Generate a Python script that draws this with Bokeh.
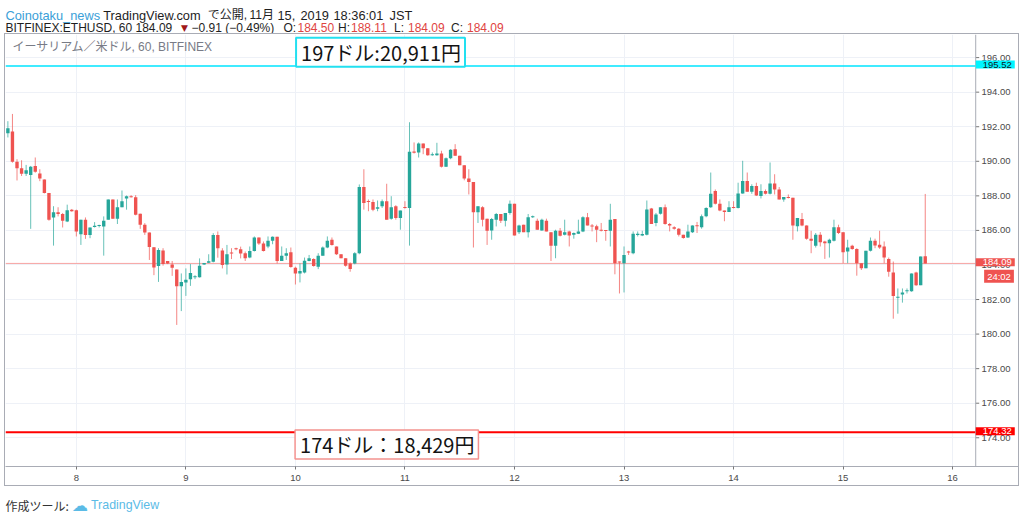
import numpy as np
import pandas as pd
from bokeh.plotting import figure
from bokeh.models import (Range1d, FixedTicker, PrintfTickFormatter, Label, Span,
                          ColumnDataSource, BoxAnnotation)
from bokeh.layouts import column
from bokeh.embed import file_html
from bokeh.resources import INLINE

# ---------------- data (hourly ETH/USD candles, Bitfinex, JST) ----------------
first_candle = "2019-11-07 09:00"
open_ = [191.62, 191.73, 189.98, 189.59, 189.28, 189.20, 189.73, 189.30, 188.95, 188.17,
         186.75, 187.05, 186.95, 186.52, 187.20, 187.16, 185.78, 186.62, 185.74, 186.19,
         186.27, 186.23, 186.62, 187.79, 186.68, 187.34, 187.84, 187.98, 187.92, 186.97,
         186.33, 185.88, 185.03, 183.94, 184.83, 184.23, 184.03, 183.74, 182.77, 182.98,
         183.18, 183.29, 183.29, 184.03, 184.13, 184.19, 185.74, 184.83, 184.03, 184.71,
         184.97, 184.91, 184.68, 184.43, 184.81, 185.59, 185.24, 185.07, 185.40, 185.63,
         184.23, 184.54, 184.74, 183.84, 183.51, 183.57, 184.23, 184.35, 183.90, 184.54,
         185.01, 185.46, 185.07, 184.62, 184.39, 184.09, 184.09, 184.68, 188.51, 187.69,
         187.65, 187.26, 187.40, 187.69, 186.68, 187.40, 186.72, 187.36, 187.30, 190.55,
         190.51, 191.03, 190.76, 190.35, 190.35, 190.45, 189.69, 190.18, 190.70, 190.32,
         189.77, 189.01, 188.80, 187.05, 187.34, 186.68, 186.00, 186.62, 186.95, 186.56,
         187.01, 187.54, 185.90, 186.33, 185.90, 186.76, 186.56, 186.00, 186.56, 185.90,
         185.11, 185.98, 185.75, 185.94, 185.75, 185.81, 185.94, 186.76, 186.29, 186.24,
         186.04, 186.02, 185.98, 186.66, 184.20, 184.10, 184.78, 184.68, 185.75, 185.71,
         185.75, 187.27, 186.43, 186.96, 187.34, 186.37, 186.18, 186.10, 185.75, 185.59,
         185.90, 186.29, 186.18, 186.82, 187.34, 188.28, 187.54, 187.15, 187.07, 187.34,
         187.30, 188.14, 188.86, 188.24, 188.57, 187.99, 188.28, 188.12, 188.72, 188.37,
         187.79, 187.93, 187.89, 186.24, 186.66, 186.29, 185.52, 185.11, 185.75, 185.36,
         185.26, 185.40, 186.18, 185.90, 184.78, 185.11, 184.93, 184.10, 183.81, 184.82,
         185.40, 185.17, 185.07, 184.35, 183.57, 182.11, 182.29, 182.48, 182.48, 183.57,
         182.83, 184.50]
high = [192.32, 192.74, 190.12, 190.06, 189.79, 189.73, 190.22, 189.54, 188.95, 188.17,
        187.40, 187.34, 187.01, 187.49, 187.24, 187.20, 186.62, 186.75, 186.17, 186.48,
        186.33, 186.81, 187.79, 187.79, 187.79, 188.31, 188.02, 188.04, 188.04, 186.97,
        186.42, 185.88, 185.03, 184.97, 184.97, 184.23, 184.23, 183.74, 183.51, 183.80,
        184.05, 183.41, 184.38, 184.11, 184.62, 185.84, 185.94, 184.97, 185.16, 184.97,
        185.00, 185.06, 184.78, 185.07, 185.65, 185.59, 185.36, 185.65, 185.65, 185.63,
        185.07, 184.97, 185.01, 183.90, 184.09, 184.43, 184.58, 184.39, 184.68, 185.07,
        185.65, 185.59, 185.07, 184.62, 184.39, 184.15, 184.74, 188.66, 189.54, 187.79,
        187.79, 187.73, 187.79, 188.70, 187.98, 187.46, 187.15, 187.69, 192.26, 191.09,
        191.09, 191.03, 190.76, 190.51, 191.07, 190.61, 190.22, 190.70, 190.99, 190.32,
        189.77, 189.54, 188.80, 187.40, 187.40, 186.68, 186.72, 187.01, 186.95, 187.01,
        187.73, 187.54, 186.33, 186.33, 186.95, 186.86, 186.68, 186.68, 186.68, 185.90,
        186.04, 186.14, 186.62, 185.98, 185.88, 186.62, 186.82, 187.01, 186.37, 186.33,
        186.43, 186.02, 187.54, 186.66, 184.20, 185.07, 184.82, 185.94, 185.94, 185.98,
        187.73, 187.30, 187.01, 187.34, 187.50, 186.43, 186.24, 186.14, 185.75, 186.33,
        186.29, 186.49, 186.92, 187.34, 189.35, 188.37, 187.79, 187.15, 187.69, 187.69,
        188.76, 190.03, 189.35, 188.67, 188.76, 188.67, 188.37, 189.93, 189.25, 188.51,
        187.93, 188.08, 187.89, 186.72, 187.01, 186.29, 185.98, 185.85, 185.90, 185.40,
        185.52, 186.62, 186.33, 185.90, 185.46, 185.17, 184.97, 184.10, 184.82, 185.59,
        185.52, 185.98, 185.36, 184.43, 184.20, 182.64, 182.64, 182.64, 183.51, 183.61,
        184.49, 188.11]
low = [191.38, 189.92, 188.89, 189.15, 189.15, 186.09, 189.34, 188.85, 188.14, 186.56,
       185.12, 186.81, 186.17, 186.48, 187.08, 185.65, 185.16, 185.51, 185.55, 186.17,
       186.17, 184.54, 186.62, 186.68, 186.37, 187.34, 187.20, 187.90, 186.87, 186.09,
       185.74, 184.29, 183.41, 183.02, 183.96, 184.05, 183.37, 180.53, 181.33, 182.21,
       182.79, 183.18, 183.27, 184.00, 184.11, 184.15, 184.42, 183.80, 183.45, 184.34,
       184.85, 184.38, 184.23, 184.39, 184.78, 185.16, 184.78, 184.97, 185.20, 184.09,
       184.23, 184.29, 183.84, 182.87, 182.99, 183.51, 184.21, 183.90, 183.76, 184.54,
       184.97, 185.12, 184.58, 184.39, 183.90, 183.61, 184.04, 184.62, 187.20, 187.11,
       187.11, 187.11, 187.30, 186.62, 186.62, 186.62, 186.04, 187.26, 185.12, 190.45,
       190.22, 190.41, 190.32, 190.32, 190.32, 189.64, 189.67, 190.12, 190.32, 189.77,
       188.90, 188.08, 185.01, 186.43, 186.23, 185.16, 185.46, 186.23, 186.43, 186.23,
       186.91, 185.71, 185.79, 185.90, 185.59, 186.72, 186.04, 185.98, 185.94, 184.23,
       184.39, 185.65, 185.71, 185.07, 185.52, 185.79, 185.90, 186.29, 185.94, 185.32,
       185.94, 185.40, 185.07, 183.46, 182.35, 182.41, 184.58, 184.62, 185.65, 185.67,
       185.71, 186.37, 186.24, 186.92, 186.33, 185.94, 186.04, 185.65, 185.52, 185.56,
       185.85, 185.85, 186.10, 186.76, 187.30, 187.50, 187.11, 186.53, 187.07, 187.27,
       187.27, 188.12, 188.24, 188.12, 187.99, 187.85, 188.08, 188.08, 188.08, 187.79,
       187.66, 187.85, 185.46, 185.94, 186.24, 185.46, 184.68, 185.01, 185.07, 184.35,
       184.43, 185.36, 185.79, 184.10, 184.10, 184.88, 183.38, 183.71, 183.81, 184.78,
       184.97, 184.93, 184.10, 183.32, 180.89, 181.18, 181.82, 182.35, 182.45, 182.79,
       182.83, 184.09]
close = [191.91, 189.98, 189.59, 189.28, 189.48, 189.69, 189.40, 189.01, 188.17, 186.62,
         187.05, 186.95, 186.56, 187.16, 187.11, 185.94, 186.62, 185.74, 186.17, 186.27,
         186.29, 186.56, 187.79, 186.68, 187.34, 187.69, 187.98, 187.92, 186.91, 186.33,
         185.88, 185.04, 183.86, 184.87, 184.05, 184.09, 183.84, 182.77, 183.02, 183.14,
         183.53, 183.35, 183.96, 184.11, 184.21, 185.74, 184.97, 184.00, 184.62, 184.67,
         184.91, 184.67, 184.39, 184.81, 185.59, 185.24, 184.81, 185.40, 185.63, 184.23,
         184.54, 184.68, 183.88, 183.51, 183.65, 184.25, 184.39, 183.94, 184.54, 185.01,
         185.40, 185.16, 184.62, 184.39, 183.96, 183.76, 184.68, 188.51, 187.59, 187.65,
         187.20, 187.34, 187.69, 186.62, 187.34, 186.72, 187.15, 187.30, 190.55, 190.51,
         191.03, 190.76, 190.35, 190.41, 190.45, 189.69, 190.18, 190.67, 190.32, 189.77,
         189.01, 188.80, 187.05, 187.40, 186.62, 185.98, 186.66, 186.95, 186.56, 187.01,
         187.54, 185.71, 186.29, 185.90, 186.76, 186.82, 186.04, 186.62, 185.94, 185.11,
         185.98, 185.69, 185.90, 185.71, 185.85, 185.94, 186.76, 186.29, 186.22, 186.04,
         185.98, 185.98, 186.62, 184.10, 184.14, 184.58, 184.72, 185.81, 185.79, 185.79,
         187.21, 186.37, 186.92, 187.34, 186.37, 186.29, 186.10, 185.75, 185.56, 185.94,
         186.29, 186.24, 186.82, 187.30, 188.12, 187.54, 187.15, 187.07, 187.34, 187.30,
         188.14, 188.86, 188.24, 188.57, 188.02, 188.28, 188.12, 188.72, 188.37, 187.79,
         187.93, 187.89, 186.29, 186.72, 186.29, 185.52, 185.40, 185.75, 185.32, 185.26,
         185.46, 186.18, 185.85, 184.74, 185.01, 184.93, 184.10, 183.81, 184.82, 185.40,
         185.13, 185.01, 184.43, 183.61, 182.21, 182.15, 182.41, 182.54, 183.51, 182.83,
         184.49, 184.09]

price_ticks = [174, 176, 178, 180, 182, 184, 186, 188, 190, 192, 194, 196]
day_labels = ["8", "9", "10", "11", "12", "13", "14", "15", "16"]
upper_level = 195.52
lower_level = 174.32
upper_note = "197ドル:20,911円"
lower_note = "174ドル：18,429円"
countdown = "24:02"
pane_title = "イーサリアム／米ドル, 60, BITFINEX"
author = "Coinotaku_news"
published = "TradingView.com で公開, 11月 15, 2019 18:36:01 JST"
symbol = "BITFINEX:ETHUSD, 60"
change = "−0.91 (−0.49%)"
footer_text = "作成ツール:"
brand = "TradingView"

# ---------------- layout helpers (page pixels -> data) ----------------
PX_DAY8, PX_PER_H = 75.7, 4.555     # page x of Nov 8 00:00, px per hour
PY_186, PY_PER_USD = 229.0, 17.2    # page y of 186.00, px per dollar
def hx(px): return (px - PX_DAY8) / PX_PER_H
def py(pyy): return 186.0 - (pyy - PY_186) / PY_PER_USD
PANE_L, PANE_R, BOX_R = 5, 973.3, 1018   # candle pane left/right, price-scale right (page px)

ref = pd.Timestamp("2019-11-08 00:00")
times = pd.date_range(first_candle, periods=len(close), freq="h")
hrs = ((times - ref) / pd.Timedelta(hours=1)).to_numpy()
day_hours = [int((pd.Timestamp(f"2019-11-{int(d):02d}") - ref) / pd.Timedelta(hours=1)) for d in day_labels]

o = np.array(open_); c = np.array(close)
top = np.maximum(o, c); bot = np.minimum(o, c)
thin = (top - bot) < 0.06
mid = (top + bot) / 2
top = np.where(thin, mid + 0.03, top); bot = np.where(thin, mid - 0.03, bot)
UP, DOWN = "#26a69a", "#ef5350"
colors = [UP if cc >= oo else DOWN for oo, cc in zip(open_, close)]
src = ColumnDataSource(dict(x=hrs, top=top, bot=bot, high=high, low=low, color=colors))

GRAY = "#a9acb5"
SANS = "Liberation Sans"
AX_SIZE = "9.5px"
# figure box: page x 4..1019, y 33..486 (1px css border); frame x 5..1018, y 34..464
p = figure(width=1015, height=453, output_backend="svg", toolbar_location=None,
           x_range=Range1d(hx(PANE_L), hx(BOX_R)), y_range=Range1d(py(464), py(34)),
           y_axis_location="right", min_border_left=0, min_border_top=0,
           min_border_right=0, min_border_bottom=21, outline_line_color=None,
           background_fill_color="white", border_fill_color="white",
           margin=(0, 0, 0, 4))
p.styles = {"border": f"1px solid {GRAY}", "box-sizing": "border-box"}

p.xaxis.ticker = FixedTicker(ticks=day_hours)
p.xaxis.major_label_overrides = {h: d for h, d in zip(day_hours, day_labels)}
p.yaxis.ticker = FixedTicker(ticks=price_ticks)
p.yaxis.formatter = PrintfTickFormatter(format="%.2f")
for ax in (p.xaxis, p.yaxis):
    ax.major_tick_line_color = "#777"
    ax.major_tick_in = 0
    ax.minor_tick_line_color = None
    ax.major_label_text_font = SANS
    ax.major_label_text_font_size = AX_SIZE
    ax.major_label_text_color = "#4a4a4a"
p.xaxis.axis_line_color = GRAY
p.xaxis.major_tick_out = 3
p.xaxis.major_label_standoff = 5
# price scale drawn inside the right-hand column of the frame
p.yaxis.axis_line_color = None
p.yaxis.major_tick_out = 0
p.yaxis.major_label_standoff = -39
p.xgrid.ticker = FixedTicker(ticks=day_hours)
p.ygrid.ticker = FixedTicker(ticks=price_ticks)
p.xgrid.grid_line_color = "#eef1f7"
p.ygrid.grid_line_color = "#eef1f7"
p.add_layout(BoxAnnotation(left=hx(PANE_R), right=hx(BOX_R), fill_color="white", fill_alpha=1,
                           line_color=None, level="underlay"))
p.add_layout(Span(location=hx(PANE_R), dimension="height", line_color=GRAY, line_width=1))

# price-scale tick marks
tick_src = ColumnDataSource(dict(y=price_ticks))
p.segment(x0=hx(PANE_R), x1=hx(PANE_R + 3.5), y0="y", y1="y", source=tick_src, line_color="#777", line_width=1)

# horizontal levels (last price, drawn levels)
lv = ColumnDataSource(dict(y=[close[-1], upper_level, lower_level],
                           color=["#f7a3a1", "#00e5ff", "#ff0000"], w=[1, 1.5, 2]))
p.segment(x0=hx(PANE_L), x1=hx(PANE_R), y0="y", y1="y", line_color="color", line_width="w", source=lv)

p.segment(x0="x", y0="low", x1="x", y1="high", color="color", line_alpha=0.7, line_width=1, source=src)
p.vbar(x="x", width=0.74, top="top", bottom="bot", fill_color="color", line_color=None, source=src)

JP = "Noto Sans CJK JP"
p.add_layout(Label(x=hx(12), y=py(46.5), text=pane_title, text_font="Liberation Sans, Noto Sans CJK JP",
                   text_font_size="12px", text_color="#787b86", text_baseline="middle"))
p.add_layout(Label(x=hx(295), y=py(51.7), text=upper_note, text_font=JP, text_font_size="20px",
                   text_color="#131313", text_baseline="middle", background_fill_color="white",
                   border_line_color="#22e0f0", border_line_width=2,
                   padding=dict(left=5, right=4, top=0, bottom=0)))
p.add_layout(Label(x=hx(294), y=py(442.2), text=lower_note, text_font=JP, text_font_size="20px",
                   text_color="#131313", text_baseline="middle", background_fill_color="white",
                   border_line_color="#f4928f", border_line_width=1.5,
                   padding=dict(left=5, right=4, top=0, bottom=0)))

def price_tag(x_px, y_val, txt, bg, fg, pl=7, pr=3):
    p.add_layout(Label(x=hx(x_px), y=y_val, text=txt, text_font=SANS,
                       text_font_size=AX_SIZE, text_color=fg, text_baseline="middle",
                       background_fill_color=bg, padding=dict(left=pl, right=pr, top=1, bottom=1)))

price_tag(PANE_R, upper_level + 0.08, f"{upper_level:.2f}", "#00f5ff", "#131722")
price_tag(PANE_R, close[-1] + 0.06, f"{close[-1]:.2f}", "#ef5350", "white")
price_tag(981.7, py(274.7), countdown, "#ef5350", "white", pl=3, pr=3)
price_tag(PANE_R, lower_level + 0.06, f"{lower_level:.2f}", "#ff0000", "white")

# ---------------- header / footer strips (SVG text, page-pixel coordinates) ----------------
def strip(h):
    return figure(width=1024, height=h, output_backend="svg", toolbar_location=None,
                  x_range=Range1d(0, 1024), y_range=Range1d(h, 0), x_axis_type=None, y_axis_type=None,
                  min_border=0, outline_line_color=None, margin=0,
                  background_fill_color="white", border_fill_color="white")

def put(f, x, y, txt, color="#1e1e1e", size="12.8px", font="Liberation Sans, Noto Sans CJK JP"):
    f.add_layout(Label(x=x, y=y, text=txt, text_color=color, text_font_size=size,
                       text_font=font, text_baseline="alphabetic"))

RED = "#e0443f"
hdr = strip(33)
L1, L2 = 14.6, 27.0                      # baselines of the two header lines
put(hdr, 5, L1, author, color="#3aa0d8")
words = published.split(" ")
for w, x in zip(words, [102.7, 207.3, 249.0, 277.0, 300.0, 333.0, 389.0]):
    cjk = any(ord(ch) > 0x3000 for ch in w)
    put(hdr, x, L1, w, size="12px" if cjk else "12.8px")
line2 = [(f"{symbol} {close[-1]:.2f}", 5, "#1e1e1e"),
         ("▼", 180.5, "#a01818"),
         (change, 191, "#1e1e1e"),
         ("O:", 283, "#1e1e1e"), (f"{open_[-1]:.2f}", 297, RED),
         ("H:", 337.5, "#1e1e1e"), (f"{high[-1]:.2f}", 350.5, RED),
         ("L:", 393.5, "#1e1e1e"), (f"{low[-1]:.2f}", 407.5, RED),
         ("C:", 450.5, "#1e1e1e"), (f"{close[-1]:.2f}", 466.5, RED)]
for txt, x, col in line2:
    tri = txt == "▼"
    put(hdr, x, L2, txt, color=col, size="9px" if tri else "12px", font="DejaVu Sans" if tri else SANS)

ftr = strip(28)                           # page y 486..514
put(ftr, 5, 18.5, footer_text, color="#333333", size="12px", font="Noto Sans CJK JP")
put(ftr, 71.5, 18.5, "☁", color="#5bbbe6", size="16px", font="DejaVu Sans")
put(ftr, 90.5, 18.5, brand, color="#5bbbe6", size="12.4px", font=SANS)

layout = column(hdr, p, ftr, spacing=0)
open("out.html", "w").write(file_html(layout, INLINE))
